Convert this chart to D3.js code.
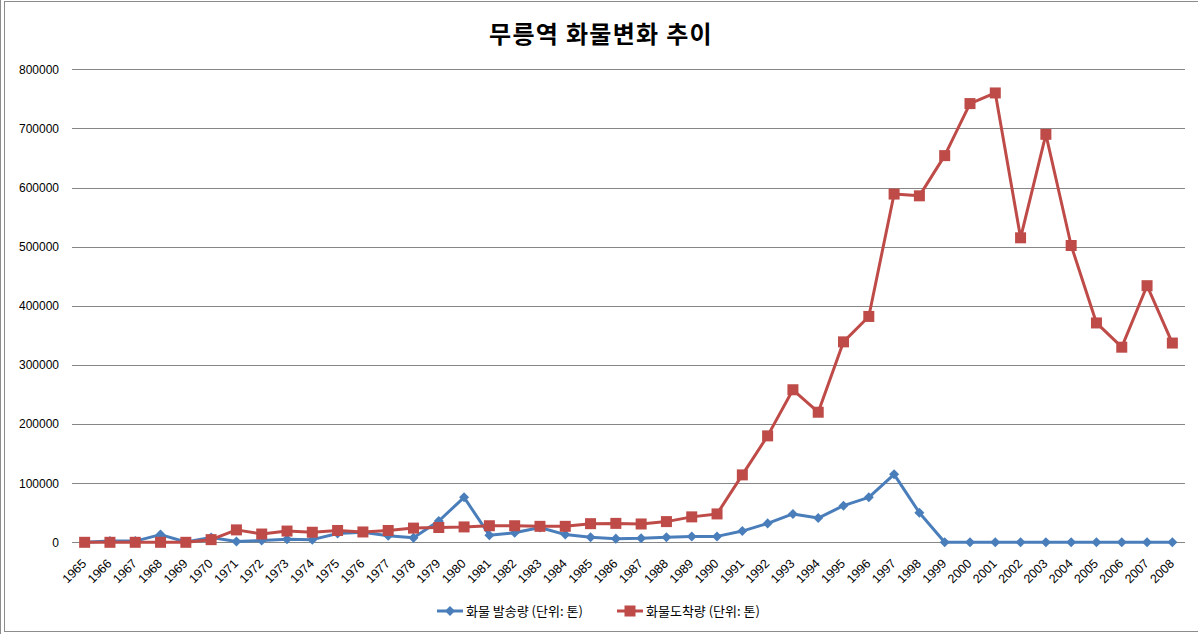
<!DOCTYPE html>
<html>
<head>
<meta charset="utf-8">
<script src="https://cdn.jsdelivr.net/npm/d3@7"></script>
<style>
  body { margin: 0; background: #fff; }
  text { font-family: "Liberation Sans", Arial, sans-serif; }
  .kr { font-family: "Noto Sans CJK KR", sans-serif; }
</style>
</head>
<body>
<div id="chart"></div>
<script>
// 연도
var years = [1965,1966,1967,1968,1969,1970,1971,1972,1973,1974,1975,1976,1977,1978,1979,1980,
             1981,1982,1983,1984,1985,1986,1987,1988,1989,1990,1991,1992,1993,1994,1995,1996,
             1997,1998,1999,2000,2001,2002,2003,2004,2005,2006,2007,2008];

// 화물 발송량 (단위: 톤)
var sent = [0,2000,2000,13000,500,8000,1500,3000,5000,4500,15000,17000,11000,7500,36000,76000,
            12000,16000,25000,13000,8500,6200,6800,8500,10000,10000,19000,32000,48000,41000,62000,76000,
            115000,50000,0,0,0,0,0,0,0,0,0,0];

// 화물도착량 (단위: 톤)
var arrived = [0,0,0,0,0,4500,21000,14000,19000,17000,20000,17500,20000,24000,25000,26000,
               28000,28000,27000,27000,31500,32000,31000,35000,43000,48000,114000,180000,258000,220000,339000,382000,
               589000,586000,654000,742000,760000,515000,690000,502000,371000,330000,434000,337000];

var yTicks = [0,100000,200000,300000,400000,500000,600000,700000,800000];

var seriesNames = ["화물 발송량 (단위: 톤)", "화물도착량 (단위: 톤)"];
var blue = "#4A7EBB", red = "#BE4B48";

var W = 1198, H = 634;
var plot = { left: 72, right: 1185, top: 69.3, bottom: 542.3 };

var svg = d3.select("#chart").append("svg")
    .attr("width", W)
    .attr("height", H);

// chart frame
svg.append("rect")
    .attr("x", 4.5).attr("y", 1.5)
    .attr("width", W + 10).attr("height", 630)
    .attr("fill", "none").attr("stroke", "#8c8c8c");
svg.append("line")
    .attr("x1", 0.5).attr("x2", 0.5).attr("y1", 0).attr("y2", H)
    .attr("stroke", "#8c8c8c");

var x = d3.scalePoint()
    .domain(years)
    .range([plot.left, plot.right])
    .padding(0.5);

var y = d3.scaleLinear()
    .domain([0, 800000])
    .range([plot.bottom, plot.top]);

// gridlines
svg.append("g")
    .selectAll("line")
    .data(yTicks)
    .enter().append("line")
    .attr("x1", plot.left).attr("x2", plot.right)
    .attr("y1", function(d){ return Math.round(y(d)) + 0.5; })
    .attr("y2", function(d){ return Math.round(y(d)) + 0.5; })
    .attr("stroke", "#868686").attr("stroke-width", 1);

// y labels
var yAxis = d3.axisLeft(y).tickValues(yTicks).tickSize(0).tickPadding(0)
    .tickFormat(d3.format("d"));
var gy = svg.append("g")
    .attr("transform", "translate(59,0)")
    .call(yAxis);
gy.select(".domain").remove();
gy.selectAll("text")
    .attr("font-family", "Liberation Sans, Arial, sans-serif")
    .attr("font-size", 12)
    .attr("fill", "#000");

// x labels
var xAxis = d3.axisBottom(x).tickSize(0).tickPadding(0);
var gx = svg.append("g")
    .attr("transform", "translate(0," + plot.bottom + ")")
    .call(xAxis);
gx.select(".domain").remove();
gx.selectAll("text")
    .attr("font-family", "Liberation Sans, Arial, sans-serif")
    .attr("font-size", 12.5)
    .attr("fill", "#000")
    .attr("text-anchor", "end")
    .attr("dy", null)
    .attr("y", 0)
    .attr("transform", "translate(2,22) rotate(-45)");

var line = d3.line()
    .x(function(d, i){ return x(years[i]); })
    .y(function(d){ return y(d); });

// 발송량
svg.append("path")
    .datum(sent)
    .attr("d", line)
    .attr("fill", "none")
    .attr("stroke", blue)
    .attr("stroke-width", 3)
    .attr("stroke-linejoin", "round");

svg.append("g").selectAll("path")
    .data(sent)
    .enter().append("path")
    .attr("d", d3.symbol().type(d3.symbolDiamond2).size(64))
    .attr("transform", function(d, i){ return "translate(" + x(years[i]) + "," + y(d) + ")"; })
    .attr("fill", blue);

// 도착량
svg.append("path")
    .datum(arrived)
    .attr("d", line)
    .attr("fill", "none")
    .attr("stroke", red)
    .attr("stroke-width", 3)
    .attr("stroke-linejoin", "round");

svg.append("g").selectAll("rect")
    .data(arrived)
    .enter().append("rect")
    .attr("x", function(d, i){ return x(years[i]) - 5.5; })
    .attr("y", function(d){ return y(d) - 5.5; })
    .attr("width", 11).attr("height", 11)
    .attr("fill", red);

// title
svg.append("text")
    .attr("class", "kr")
    .attr("x", 601).attr("y", 43)
    .attr("text-anchor", "middle")
    .attr("font-size", 24)
    .attr("font-weight", "bold")
    .attr("letter-spacing", 1.3)
    .text("무릉역 화물변화 추이");

// legend
var legend = svg.append("g").attr("transform", "translate(0,611)");
var lg = [
  { name: seriesNames[0], color: blue, x: 437, marker: "diamond" },
  { name: seriesNames[1], color: red, x: 617, marker: "square" }
];
lg.forEach(function(l){
    legend.append("line")
        .attr("x1", l.x).attr("x2", l.x + 26)
        .attr("y1", 0).attr("y2", 0)
        .attr("stroke", l.color).attr("stroke-width", 3);
    if (l.marker == "diamond") {
        legend.append("path")
            .attr("d", d3.symbol().type(d3.symbolDiamond2).size(64))
            .attr("transform", "translate(" + (l.x + 13) + ",0)")
            .attr("fill", l.color);
    } else {
        legend.append("rect")
            .attr("x", l.x + 7.5).attr("y", -5.5)
            .attr("width", 11).attr("height", 11)
            .attr("fill", l.color);
    }
    legend.append("text")
        .attr("class", "kr")
        .attr("x", l.x + 29).attr("y", 5)
        .attr("font-size", 13)
        .attr("fill", "#000")
        .text(l.name);
});
</script>
</body>
</html>
